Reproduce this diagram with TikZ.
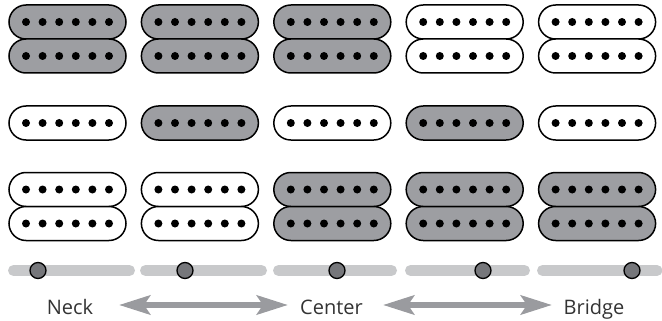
\documentclass[tikz,border=0pt]{standalone}
\usepackage{fontspec}
\setmainfont{Open Sans}
\usetikzlibrary{shapes.misc,arrows.meta}
\definecolor{pickgray}{HTML}{9D9EA2}
\definecolor{railgray}{HTML}{C8C9CB}
\definecolor{knobgray}{HTML}{76777B}
\definecolor{arrgray}{HTML}{9A9B9F}
\definecolor{txtgray}{HTML}{333333}
% one coil with its six pole pieces
\newcommand{\pickupcoil}[4]{%
	\node[coil, fill=#4] (#1) at (#2, #3) {};
	\foreach \k in {0,...,5}
		\fill (#2 - 41.5 + 16.6*\k, #3) circle (4);
}
\begin{document}
\begin{tikzpicture}[x=1pt, y=-1pt,
		coil/.style={draw=black, line width=1.5pt, rounded rectangle, minimum width=117pt, minimum height=34pt, inner sep=0pt},
		rail/.style={railgray, line width=11pt, line cap=round},
		knob/.style={circle, draw=black, line width=1.3pt, fill=knobgray, minimum size=16pt, inner sep=0pt},
		label/.style={text=txtgray, font=\fontsize{20}{24}\selectfont, anchor=base},
		sweep/.style={arrgray, line width=6pt, {Stealth[length=31pt, width=19pt, inset=6pt]}-{Stealth[length=31pt, width=19pt, inset=6pt]}}]
	\useasboundingbox (0, 0) rectangle (662, 321);

	% pickups, one column per switch position
	\foreach \top/\mid/\bot [count=\i from 0] in {pickgray/white/white, pickgray/pickgray/white, pickgray/white/pickgray, white/pickgray/pickgray, white/white/pickgray} {
		\pgfmathsetmacro{\cx}{67.5 + 132.4*\i}
		\pickupcoil{ta\i}{\cx}{22}{\top}
		\pickupcoil{tb\i}{\cx}{56}{\top}
		\pickupcoil{m\i}{\cx}{123}{\mid}
		\pickupcoil{ba\i}{\cx}{189.5}{\bot}
		\pickupcoil{bb\i}{\cx}{223.5}{\bot}
	}

	% switch rail
	\foreach \a/\b in {13.5/129.5, 145.5/261.5, 278.5/391.5, 410.5/524.5, 542.5/657}
		\draw[rail] (\a, 270.5) -- (\b, 270.5);
	\foreach \x [count=\i] in {38, 185, 337, 483, 632}
		\node[knob] (k\i) at (\x, 270.5) {};

	% positions
	\node[label] (neck) at (70, 314) {Neck};
	\node[label] (center) at (331.5, 314) {Center};
	\node[label] (bridge) at (594, 314) {Bridge};
	\coordinate (a1) at (119, 305);
	\coordinate (a2) at (288, 305);
	\coordinate (a3) at (383, 305);
	\coordinate (a4) at (552, 305);
	\draw[sweep] (a1) -- (a2);
	\draw[sweep] (a3) -- (a4);
\end{tikzpicture}
\end{document}
